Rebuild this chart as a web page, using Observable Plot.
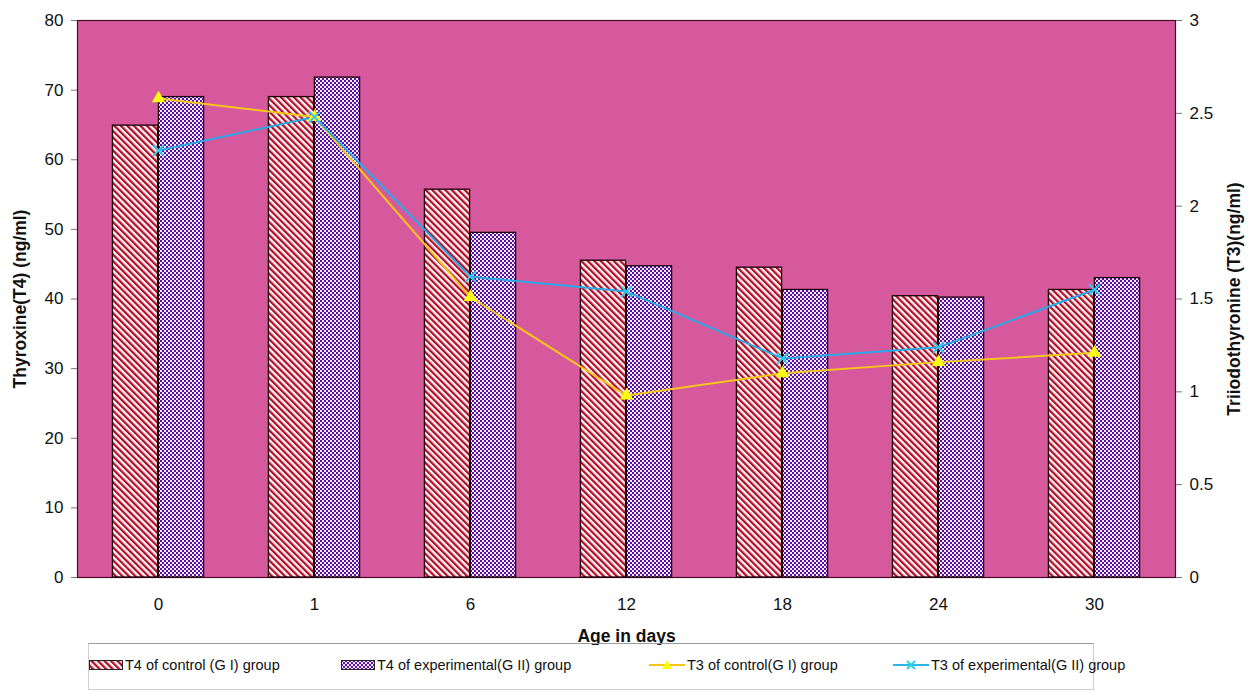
<!DOCTYPE html>
<html><head><meta charset="utf-8">
<script src="https://cdn.jsdelivr.net/npm/d3@7"></script>
<script src="https://cdn.jsdelivr.net/npm/@observablehq/plot@0.6"></script>
<style>
body{margin:0;background:#fff;font-family:"Liberation Sans",Arial,sans-serif;}
#wrap{position:relative;width:1253px;height:693px;}
#legend{position:absolute;left:88px;top:643px;width:1006px;height:47px;border:1px solid #cfcfcf;border-top:1px solid #9a9a9a;box-sizing:border-box;font-size:14.5px;color:#111;}
.item{position:absolute;top:13px;display:flex;align-items:center;white-space:nowrap;}
.item svg{margin-right:2px;}
</style></head><body>
<svg width="0" height="0" style="position:absolute">
<defs>
<pattern id="stripes" patternUnits="userSpaceOnUse" width="4.6" height="4.6" patternTransform="rotate(-45)">
<rect width="4.6" height="4.6" fill="#fff6f6"/><rect width="2.3" height="4.6" fill="#b0102c"/>
</pattern>
<pattern id="checks" patternUnits="userSpaceOnUse" width="4" height="4">
<rect width="4" height="4" fill="#f8ecfc"/><rect x="0" y="0" width="2" height="2" fill="#5a10a8"/><rect x="2" y="2" width="2" height="2" fill="#5a10a8"/>
</pattern>
</defs></svg>
<div id="wrap"><div id="chart"></div>
<div id="legend">
 <div class="item" style="left:0px"><svg width="34" height="10"><rect x="0.5" y="0.5" width="33" height="9" fill="url(#stripes)" stroke="#222"/></svg>T4 of control (G I) group</div>
 <div class="item" style="left:252px"><svg width="34" height="10"><rect x="0.5" y="0.5" width="33" height="9" fill="url(#checks)" stroke="#222"/></svg>T4 of experimental(G II) group</div>
 <div class="item" style="left:560px"><svg width="36" height="12"><line x1="0" y1="6" x2="36" y2="6" stroke="#f5c518" stroke-width="2"/><path d="M18,1 L23,10 L13,10 Z" fill="#ffff00"/></svg>T3 of control(G I) group</div>
 <div class="item" style="left:804px"><svg width="36" height="12"><line x1="0" y1="6" x2="36" y2="6" stroke="#29b6e8" stroke-width="2"/><path d="M14,2 L22,10 M22,2 L14,10" stroke="#29d0f0" stroke-width="2"/></svg>T3 of experimental(G II) group</div>
</div>
</div>
<script>
const days = ["0","1","6","12","18","24","30"];
const t4Control = [64.9, 69.0, 55.7, 45.5, 44.5, 40.4, 41.3];
const t4Experimental = [69.0, 71.8, 49.5, 44.7, 41.3, 40.2, 43.0];
const t3Control = [2.58, 2.48, 1.51, 0.98, 1.10, 1.16, 1.21];
const t3Experimental = [2.30, 2.48, 1.62, 1.54, 1.18, 1.24, 1.55];
const t4Ticks = [0,10,20,30,40,50,60,70,80];
const t3Ticks = [0,0.5,1,1.5,2,2.5,3];

const T4MAX = 80, T3MAX = 3, k = T4MAX / T3MAX;
const barsC = days.map((d,i)=>({day:d, v:t4Control[i]}));
const barsE = days.map((d,i)=>({day:d, v:t4Experimental[i]}));
const lineC = days.map((d,i)=>({day:d, v:t3Control[i]*k}));
const lineE = days.map((d,i)=>({day:d, v:t3Experimental[i]*k}));

const W = 1253, mL = 77, mR = 78;
const step = (W - mL - mR) / days.length;
const barW = 46;
const outer = (step - 2*barW) / 2;

const chart = Plot.plot({
  width: W, height: 645,
  marginLeft: mL, marginRight: mR, marginTop: 20, marginBottom: 68,
  style: {fontFamily: '"Liberation Sans", Arial, sans-serif', fontSize: "17px", color: "#111", background: "transparent"},
  x: {domain: days, padding: 0, label: null},
  y: {domain: [0, T4MAX], label: null},
  marks: [
    Plot.frame({fill: "#d6589d", stroke: "#4a0a28", strokeWidth: 1.2}),
    Plot.barY(barsC, {x: "day", y: "v", fill: "url(#stripes)", stroke: "#1a0008", strokeWidth: 1.3, insetLeft: outer, insetRight: outer + barW}),
    Plot.barY(barsE, {x: "day", y: "v", fill: "url(#checks)", stroke: "#1a0008", strokeWidth: 1.3, insetLeft: outer + barW, insetRight: outer}),
    Plot.line(lineC, {x: "day", y: "v", stroke: "#f7c51c", strokeWidth: 2}),
    Plot.line(lineE, {x: "day", y: "v", stroke: "#2aa8e6", strokeWidth: 2}),
    Plot.dot(lineC, {x: "day", y: "v", symbol: "triangle", fill: "#ffff10", r: 5}),
    Plot.dot(lineE, {x: "day", y: "v", symbol: "times", stroke: "#36c6ee", strokeWidth: 2, r: 5}),
    Plot.axisY({anchor: "left", ticks: t4Ticks, tickSize: 6, tickPadding: 8, stroke: "#777", label: "Thyroxine(T4) (ng/ml)", labelAnchor: "center", labelOffset: 64, labelArrow: "none", fontSize: 17}),
    Plot.axisY({anchor: "right", ticks: t3Ticks.map(t=>t*k), tickFormat: t => d3.format("")(+(t/k).toFixed(2)), tickSize: 6, tickPadding: 8, stroke: "#777", label: "Triiodothyronine (T3)(ng/ml)", labelAnchor: "center", labelOffset: 64, labelArrow: "none", fontSize: 17}),
    Plot.axisX({tickSize: 0, tickPadding: 20, label: "Age in days", labelAnchor: "center", labelOffset: 64, labelArrow: "none", fontSize: 17})
  ]
});
document.getElementById("chart").appendChild(chart);
d3.select(chart).selectAll("[aria-label$='axis label'] text").style("font-weight","bold").style("font-size","17.5px");
</script>
</body></html>
